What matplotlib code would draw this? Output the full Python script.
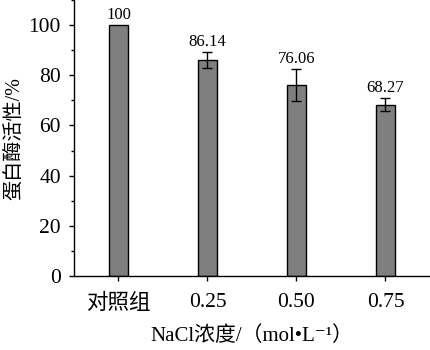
import matplotlib
matplotlib.use("Agg")
import matplotlib.pyplot as plt
from matplotlib.ticker import MultipleLocator

plt.rcParams['font.family'] = ['Liberation Serif', 'Noto Sans CJK SC', 'DejaVu Sans']

categories = ['对照组', '0.25', '0.50', '0.75']
activity = [100, 86.14, 76.06, 68.27]
errors = [0, 3.3, 6.4, 2.6]
value_labels = ['100', '86.14', '76.06', '68.27']

fig = plt.figure(figsize=(4.3, 3.5), dpi=100)
ax = fig.add_axes([0.172, 0.2114, 0.828, 0.7886])

x = list(range(len(categories)))
ax.bar(x, activity, width=0.21, color='#7f7f7f', edgecolor='black', linewidth=1.0, zorder=2)
for xi, v, e in zip(x, activity, errors):
    if e > 0:
        ax.errorbar(xi, v, yerr=e, fmt='none', ecolor='black', elinewidth=1.0,
                    capsize=3.5, capthick=1.0, zorder=3)
for xi, v, e, lab in zip(x, activity, errors, value_labels):
    ax.text(xi, v + e + 0.8, lab, ha='center', va='bottom', fontsize=12)

ax.set_xlim(-0.5, 3.5)
ax.set_ylim(0, 110)
ax.set_xticks(x)
ax.set_xticklabels(categories, fontsize=15.5)
ax.set_yticks([0, 20, 40, 60, 80, 100])
ax.yaxis.set_minor_locator(MultipleLocator(10))
ax.tick_params(axis='y', labelsize=15.5, direction='out', length=3.5, width=1.0, pad=6)
ax.tick_params(axis='y', which='minor', length=2.2, width=1.0)
ax.tick_params(axis='x', direction='out', length=3.5, width=1.0, pad=9)

ax.spines['top'].set_visible(False)
ax.spines['right'].set_visible(False)
ax.spines['left'].set_linewidth(1.0)
ax.spines['bottom'].set_linewidth(1.0)

ax.set_ylabel('蛋白酶活性/%', fontsize=14.5, labelpad=3)
ax.set_xlabel('NaCl浓度/（mol•L⁻¹）', fontsize=15, labelpad=9)

fig.savefig('out.png', dpi=100, facecolor='white')
